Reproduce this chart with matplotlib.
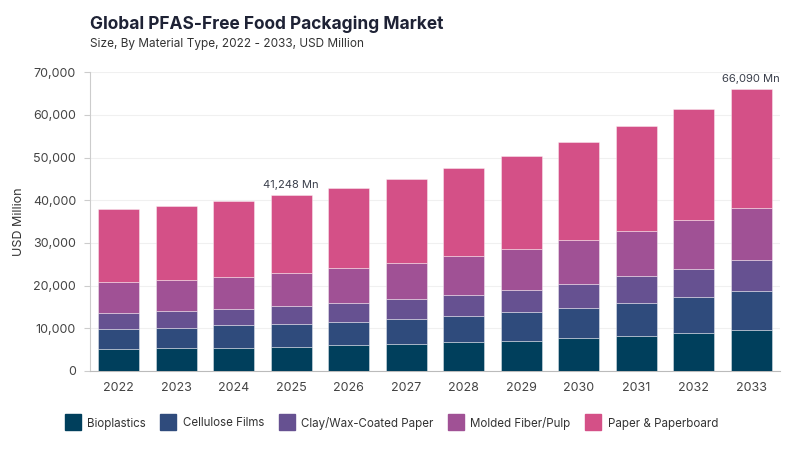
import numpy as np
import matplotlib.pyplot as plt
from matplotlib.lines import Line2D

# === DATA ===
years = ["2022", "2023", "2024", "2025", "2026", "2027",
         "2028", "2029", "2030", "2031", "2032", "2033"]
bioplastics = [5150, 5460, 5480, 5690, 6010, 6390, 6780, 7090, 7790, 8260, 8960, 9660]
cellulose_films = [4680, 4670, 5210, 5380, 5530, 5850, 6160, 6780, 7020, 7720, 8280, 8980]
clay_wax_paper = [3810, 3900, 3890, 4060, 4370, 4600, 4910, 5150, 5610, 6170, 6690, 7250]
molded_fiber = [7250, 7330, 7480, 7870, 8110, 8500, 8980, 9590, 10150, 10670, 11460, 12310]
paper_board = [16940, 17320, 17710, 18248, 18860, 19650, 20660, 21750, 23070, 24490, 26060, 27890]

series_names = ["Bioplastics", "Cellulose Films", "Clay/Wax-Coated Paper",
                "Molded Fiber/Pulp", "Paper & Paperboard"]
colors = ["#003f5c", "#2f4b7c", "#665191", "#a05195", "#d45087"]
callouts = {"2025": "41,248 Mn", "2033": "66,090 Mn"}

plt.rcParams['font.family'] = ['Inter', 'DejaVu Sans']

fig = plt.figure(figsize=(8, 4.5), dpi=100)
ax = fig.add_axes([0.1125, 0.1756, 0.8625, 0.664])

x = np.arange(len(years))
bottom = np.zeros(len(years))
for name, vals, col in zip(series_names,
                           [bioplastics, cellulose_films, clay_wax_paper, molded_fiber, paper_board],
                           colors):
    ax.bar(x, vals, width=0.72, bottom=bottom, color=col,
           edgecolor=(1, 1, 1, 0.45), linewidth=0.6, zorder=3)
    bottom += np.array(vals)

totals = bottom
for yr, txt in callouts.items():
    i = years.index(yr)
    ax.text(i, totals[i] + 1200, txt, ha="center", va="bottom",
            fontsize=8, color="#3a3f4b")

ax.set_xlim(-0.5, len(years) - 0.5)
ax.set_ylim(0, 70000)
ax.set_yticks(np.arange(0, 70001, 10000))
ax.set_yticklabels([f"{v:,}" for v in range(0, 70001, 10000)])
ax.set_xticks(x)
ax.set_xticklabels(years)
ax.tick_params(axis="both", labelsize=9, colors="#444444", length=0, pad=8)
ax.tick_params(axis="y", length=4, color="#cccccc", pad=6)
ax.grid(axis="y", color="#f0f0f0", linewidth=0.8, zorder=0)
for s in ["top", "right"]:
    ax.spines[s].set_visible(False)
ax.spines["left"].set_color("#cccccc")
ax.spines["bottom"].set_color("#bbbbbb")
ax.set_ylabel("USD Million", fontsize=9, color="#333333", labelpad=6)

fig.text(0.1125, 0.935, "Global PFAS-Free Food Packaging Market",
         fontsize=12.5, fontweight="bold", color="#1e2235")
fig.text(0.1125, 0.895, "Size, By Material Type, 2022 - 2033, USD Million",
         fontsize=8.5, color="#333333")

handles = [Line2D([0], [0], marker="s", linestyle="", markersize=11,
                  markerfacecolor=c, markeredgecolor=c) for c in colors]
fig.legend(handles, series_names, loc="center", bbox_to_anchor=(0.487, 0.06),
           ncol=5, frameon=False, fontsize=8.3, handletextpad=0.25,
           columnspacing=0.95, labelcolor="#333333")

fig.savefig("out.png", dpi=100)
